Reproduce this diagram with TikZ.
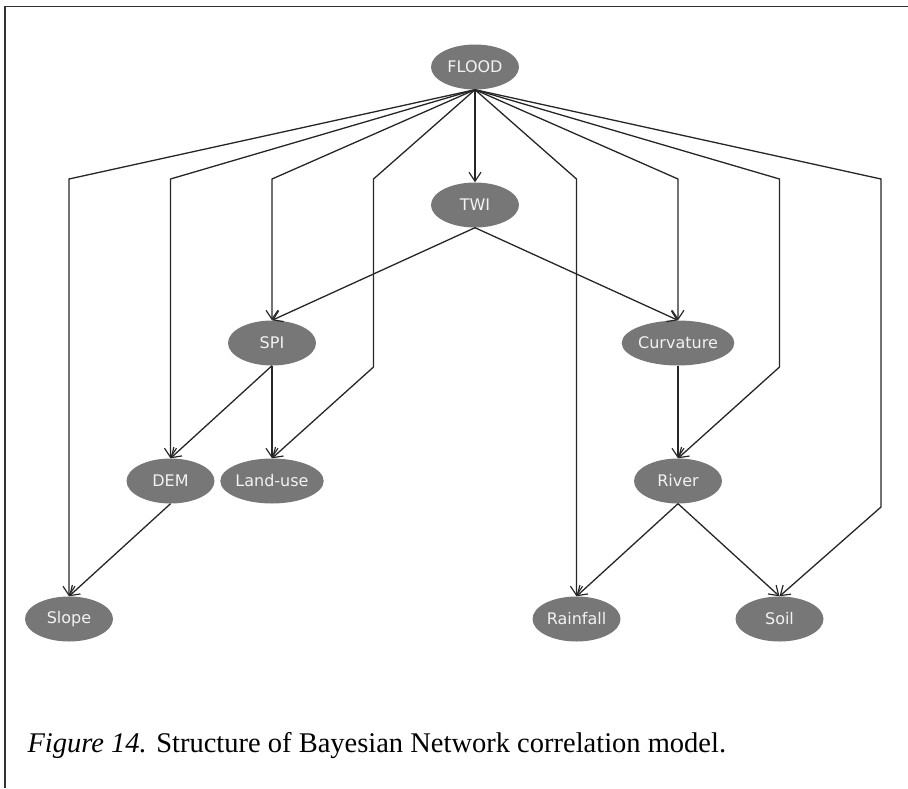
\documentclass[tikz,border=0pt]{standalone}
\usepackage{fontspec}
\setmainfont{Liberation Serif}
\newfontfamily\bnfont{DejaVu Sans}
\usetikzlibrary{arrows.meta,positioning,shapes.geometric}
\definecolor{bngray}{HTML}{777777}
\definecolor{bntext}{HTML}{F2F2F2}
\tikzset{
bnnode/.style={
  ellipse,
  fill=bngray,
  text=bntext,
  inner sep=0pt,
  minimum width=88pt,
  minimum height=45pt,
  font=\bnfont\fontsize{16}{16}\selectfont
},
bnarrow/.style={
  -{Straight Barb[length=9pt,width=12pt,line width=1.2pt]},
  line width=1.3pt,
  draw=black!85
}
}

\begin{document}
\begin{tikzpicture}[x=1pt,y=-1pt,node distance=138pt and 101.5pt,on grid]
\useasboundingbox (0,0) rectangle (908,788);
\draw[line width=1.2pt,black!80] (5,788) -- (5,6.5) -- (908,6.5);

\node[bnnode] (flood) at (475,67) {FLOOD};
\node[bnnode, below=of flood] (twi) {TWI};
\node[bnnode, below left=138pt and 203pt of twi] (spi) {SPI};
\node[bnnode, below right=138pt and 203pt of twi] (curv) {Curvature};
\node[bnnode, below left=of spi] (dem) {DEM};
\node[bnnode, below=of spi] (landuse) {Land-use};
\node[bnnode, below=of curv] (river) {River};
\node[bnnode, below left=of dem] (slope) {Slope};
\node[bnnode, below left=of river] (rainfall) {Rainfall};
\node[bnnode, below right=of river] (soil) {Soil};

% bend levels and empty columns
\coordinate (fan) at (0,179);
\coordinate (kneeA) at (0,367);
\coordinate (kneeB) at (0,507);
\coordinate[right=of landuse] (lucol);
\coordinate[right=of soil] (soilcol);

% FLOOD to every other node
\draw[bnarrow] (flood.south) -- (slope |- fan) -- (slope.north);
\draw[bnarrow] (flood.south) -- (dem |- fan) -- (dem.north);
\draw[bnarrow] (flood.south) -- (spi |- fan) -- (spi.north);
\draw[bnarrow] (flood.south) -- (lucol |- fan) -- (lucol |- kneeA) -- (landuse.north);
\draw[bnarrow] (flood.south) -- (twi.north);
\draw[bnarrow] (flood.south) -- (rainfall |- fan) -- (rainfall.north);
\draw[bnarrow] (flood.south) -- (curv |- fan) -- (curv.north);
\draw[bnarrow] (flood.south) -- (soil |- fan) -- (soil |- kneeA) -- (river.north);
\draw[bnarrow] (flood.south) -- (soilcol |- fan) -- (soilcol |- kneeB) -- (soil.north);

% remaining links
\draw[bnarrow] (twi.south) -- (spi.north);
\draw[bnarrow] (twi.south) -- (curv.north);
\draw[bnarrow] (spi.south) -- (dem.north);
\draw[bnarrow] (spi.south) -- (landuse.north);
\draw[bnarrow] (dem.south) -- (slope.north);
\draw[bnarrow] (curv.south) -- (river.north);
\draw[bnarrow] (river.south) -- (rainfall.north);
\draw[bnarrow] (river.south) -- (soil.north);

\node[anchor=base west, font=\fontsize{28.5}{28.5}\selectfont] (caption) at (24,752)
  {{\itshape Figure 14.} Structure of Bayesian Network correlation model.};

\end{tikzpicture}
\end{document}
